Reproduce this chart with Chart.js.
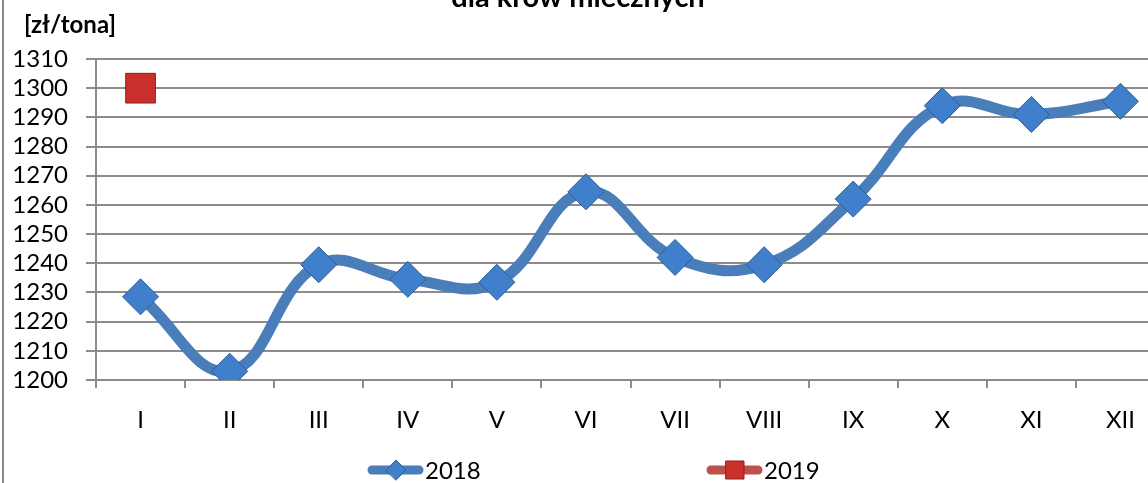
<!DOCTYPE html>
<html>
<head>
<meta charset="utf-8">
<script src="https://cdn.jsdelivr.net/npm/chart.js@4"></script>
<style>
  html, body { margin: 0; padding: 0; background: #fff; }
  #frame { position: relative; width: 1148px; height: 483px; overflow: hidden; background: #fff; }
  #edge { position: absolute; left: 2px; top: 0; width: 2px; height: 483px; background: #8a8a8a; }
  #milkChart { position: absolute; left: 0; top: 0; }
</style>
</head>
<body>
<div id="frame">
  <canvas id="milkChart" width="1187" height="483"></canvas>
  <div id="edge"></div>
</div>
<script>
// dane
const months = ['I', 'II', 'III', 'IV', 'V', 'VI', 'VII', 'VIII', 'IX', 'X', 'XI', 'XII'];
const prices2018 = [1228.5, 1203, 1239.5, 1234.5, 1233.5, 1264.5, 1242, 1239.5, 1262, 1294, 1291, 1295.5];
const prices2019 = [1300, null, null, null, null, null, null, null, null, null, null, null];
const seriesNames = ['2018', '2019'];
const chartTitle = 'dla krów mlecznych';
const unitLabel = '[zł/tona]';

const FONT = 'Lato, "Open Sans", sans-serif';

// tytul (uciety u gory), jednostka i legenda rysowane recznie
const extrasPlugin = {
  id: 'extras',
  afterDraw(chart) {
    const ctx = chart.ctx;
    ctx.save();
    ctx.fillStyle = '#000';
    ctx.textBaseline = 'alphabetic';
    ctx.font = 'bold 29px ' + FONT;
    ctx.textAlign = 'center';
    ctx.fillText(chartTitle, 578, 7);

    ctx.font = 'bold 24px ' + FONT;
    ctx.textAlign = 'left';
    ctx.fillText(unitLabel, 24, 33);

    // legenda
    const items = [
      { x: 368, ds: chart.data.datasets[0] },
      { x: 707, ds: chart.data.datasets[1] }
    ];
    items.forEach(it => {
      const y = 470;
      ctx.strokeStyle = it.ds.legendLine;
      ctx.lineWidth = 9;
      ctx.lineCap = 'round';
      ctx.beginPath();
      ctx.moveTo(it.x + 4, y);
      ctx.lineTo(it.x + 51, y);
      ctx.stroke();
      const cx = it.x + 28;
      ctx.fillStyle = it.ds.pointBackgroundColor;
      ctx.strokeStyle = it.ds.pointBorderColor;
      ctx.lineWidth = 1;
      ctx.beginPath();
      if (it.ds.pointStyle === 'rectRot') {
        ctx.moveTo(cx - 10, y); ctx.lineTo(cx, y - 10); ctx.lineTo(cx + 10, y); ctx.lineTo(cx, y + 10);
      } else {
        ctx.rect(cx - 9, y - 9, 18, 18);
      }
      ctx.closePath();
      ctx.fill();
      ctx.stroke();
      ctx.fillStyle = '#000';
      ctx.font = '24px ' + FONT;
      ctx.textAlign = 'left';
      ctx.textBaseline = 'middle';
      ctx.fillText(it.ds.label, it.x + 57, y + 1);
    });
    ctx.restore();
  }
};

const ctx = document.getElementById('milkChart').getContext('2d');
new Chart(ctx, {
  type: 'line',
  data: {
    labels: months,
    datasets: [
      {
        label: seriesNames[0],
        data: prices2018,
        borderColor: '#4a7ebb',
        legendLine: '#4a7ebb',
        borderWidth: 11,
        tension: 0.42,
        pointStyle: 'rectRot',
        pointRadius: 18,
        pointBackgroundColor: '#3f7fcc',
        pointBorderColor: '#2c5d98',
        pointBorderWidth: 1
      },
      {
        label: seriesNames[1],
        data: prices2019,
        borderColor: '#c0504d',
        legendLine: '#c0504d',
        borderWidth: 11,
        pointStyle: 'rect',
        pointRadius: 21,
        pointBackgroundColor: '#c9302c',
        pointBorderColor: '#8e1f1c',
        pointBorderWidth: 1,
        spanGaps: false
      }
    ]
  },
  options: {
    responsive: false,
    animation: false,
    layout: { padding: { top: 59, left: 0, right: 0, bottom: 0 } },
    plugins: {
      legend: { display: false },
      title: { display: false },
      tooltip: { enabled: false }
    },
    scales: {
      x: {
        offset: true,
        afterFit(scale) { scale.height = 103; },
        grid: { display: true, drawOnChartArea: false, drawTicks: true, tickLength: 8, offset: true, color: '#8c8c8c', lineWidth: 2 },
        border: { display: true, color: '#8c8c8c', width: 2 },
        ticks: { color: '#000', font: { family: FONT, size: 24 }, padding: 18, maxRotation: 0 }
      },
      y: {
        min: 1200,
        max: 1310,
        afterFit(scale) { scale.width = 96; },
        grid: { color: '#8c8c8c', lineWidth: 2, tickLength: 10 },
        border: { display: true, color: '#8c8c8c', width: 2 },
        ticks: {
          stepSize: 10,
          autoSkip: false,
          color: '#000',
          font: { family: FONT, size: 24 },
          padding: 18,
          callback: (v) => String(v)
        }
      }
    }
  },
  plugins: [extrasPlugin]
});
</script>
</body>
</html>
